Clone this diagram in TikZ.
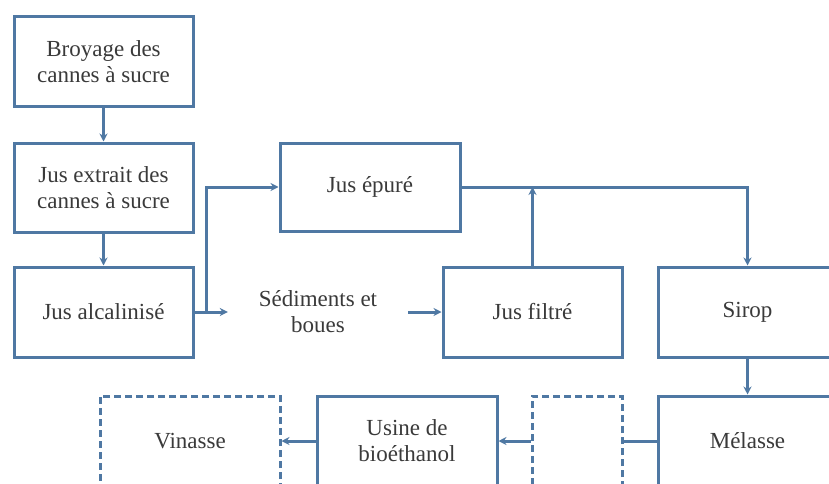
\documentclass[tikz,border=0pt]{standalone}
\usepackage{fontspec}
\setmainfont{Liberation Serif}
\usetikzlibrary{arrows.meta}
\definecolor{lineblue}{HTML}{4F78A3}
\definecolor{txt}{HTML}{3A3A3A}
\begin{document}
\begin{tikzpicture}[x=1pt,y=-1pt,
  box/.style={draw=lineblue, line width=3pt, minimum width=179pt, minimum height=90pt, inner sep=0pt, align=center, text=txt, font=\fontsize{23}{26}\selectfont},
  dbox/.style={box, dash pattern=on 7pt off 4pt},
  arr/.style={draw=lineblue, line width=3pt, -{Stealth[length=8pt,width=8pt]}},
  ln/.style={draw=lineblue, line width=3pt}]
\clip (0,0) rectangle (829,484);
\fill[white] (0,0) rectangle (829,484);
\node[box] (b1) at (103.5,62) {Broyage des\\cannes à sucre};
\node[box, minimum height=89pt] (b2) at (103.5,187.5) {Jus extrait des\\cannes à sucre};
\node[box] (b3) at (103.5,312) {Jus alcalinisé};
\node[box, minimum width=180pt, minimum height=88pt] (jep) at (370,187) {Jus épuré};
\node[align=center, text=txt, font=\fontsize{23}{26}\selectfont, minimum width=180pt, inner sep=0pt] (sed) at (318,312) {Sédiments et\\boues};
\node[box] (jf) at (532.5,312) {Jus filtré};
\node[box] (sirop) at (747.5,312) {Sirop};
\node[box] (mel) at (747.5,441) {Mélasse};
\node[dbox, minimum width=90pt] (dsm) at (577,441) {};
\node[box, minimum width=180pt] (usine) at (407,441) {Usine de\\bioéthanol};
\node[dbox, minimum width=180pt] (vin) at (190,441) {Vinasse};
\coordinate (split) at (206,312);
\draw[arr] (b1) -- (b2);
\draw[arr] (b2) -- (b3);
\draw[arr] (b3.east) -- (sed.west);
\draw[arr] (split) |- (jep.west);
\draw[arr] (sed.east) -- (jf.west);
\draw[arr] (jep.east) -| (sirop.north);
\draw[arr] (jf.north) -- (jf.north |- jep.east);
\draw[arr] (sirop) -- (mel);
\draw[ln] (mel.west) -- (dsm.east);
\draw[arr] (dsm.west) -- (usine.east);
\draw[arr] (usine.west) -- (vin.east);
\end{tikzpicture}
\end{document}
